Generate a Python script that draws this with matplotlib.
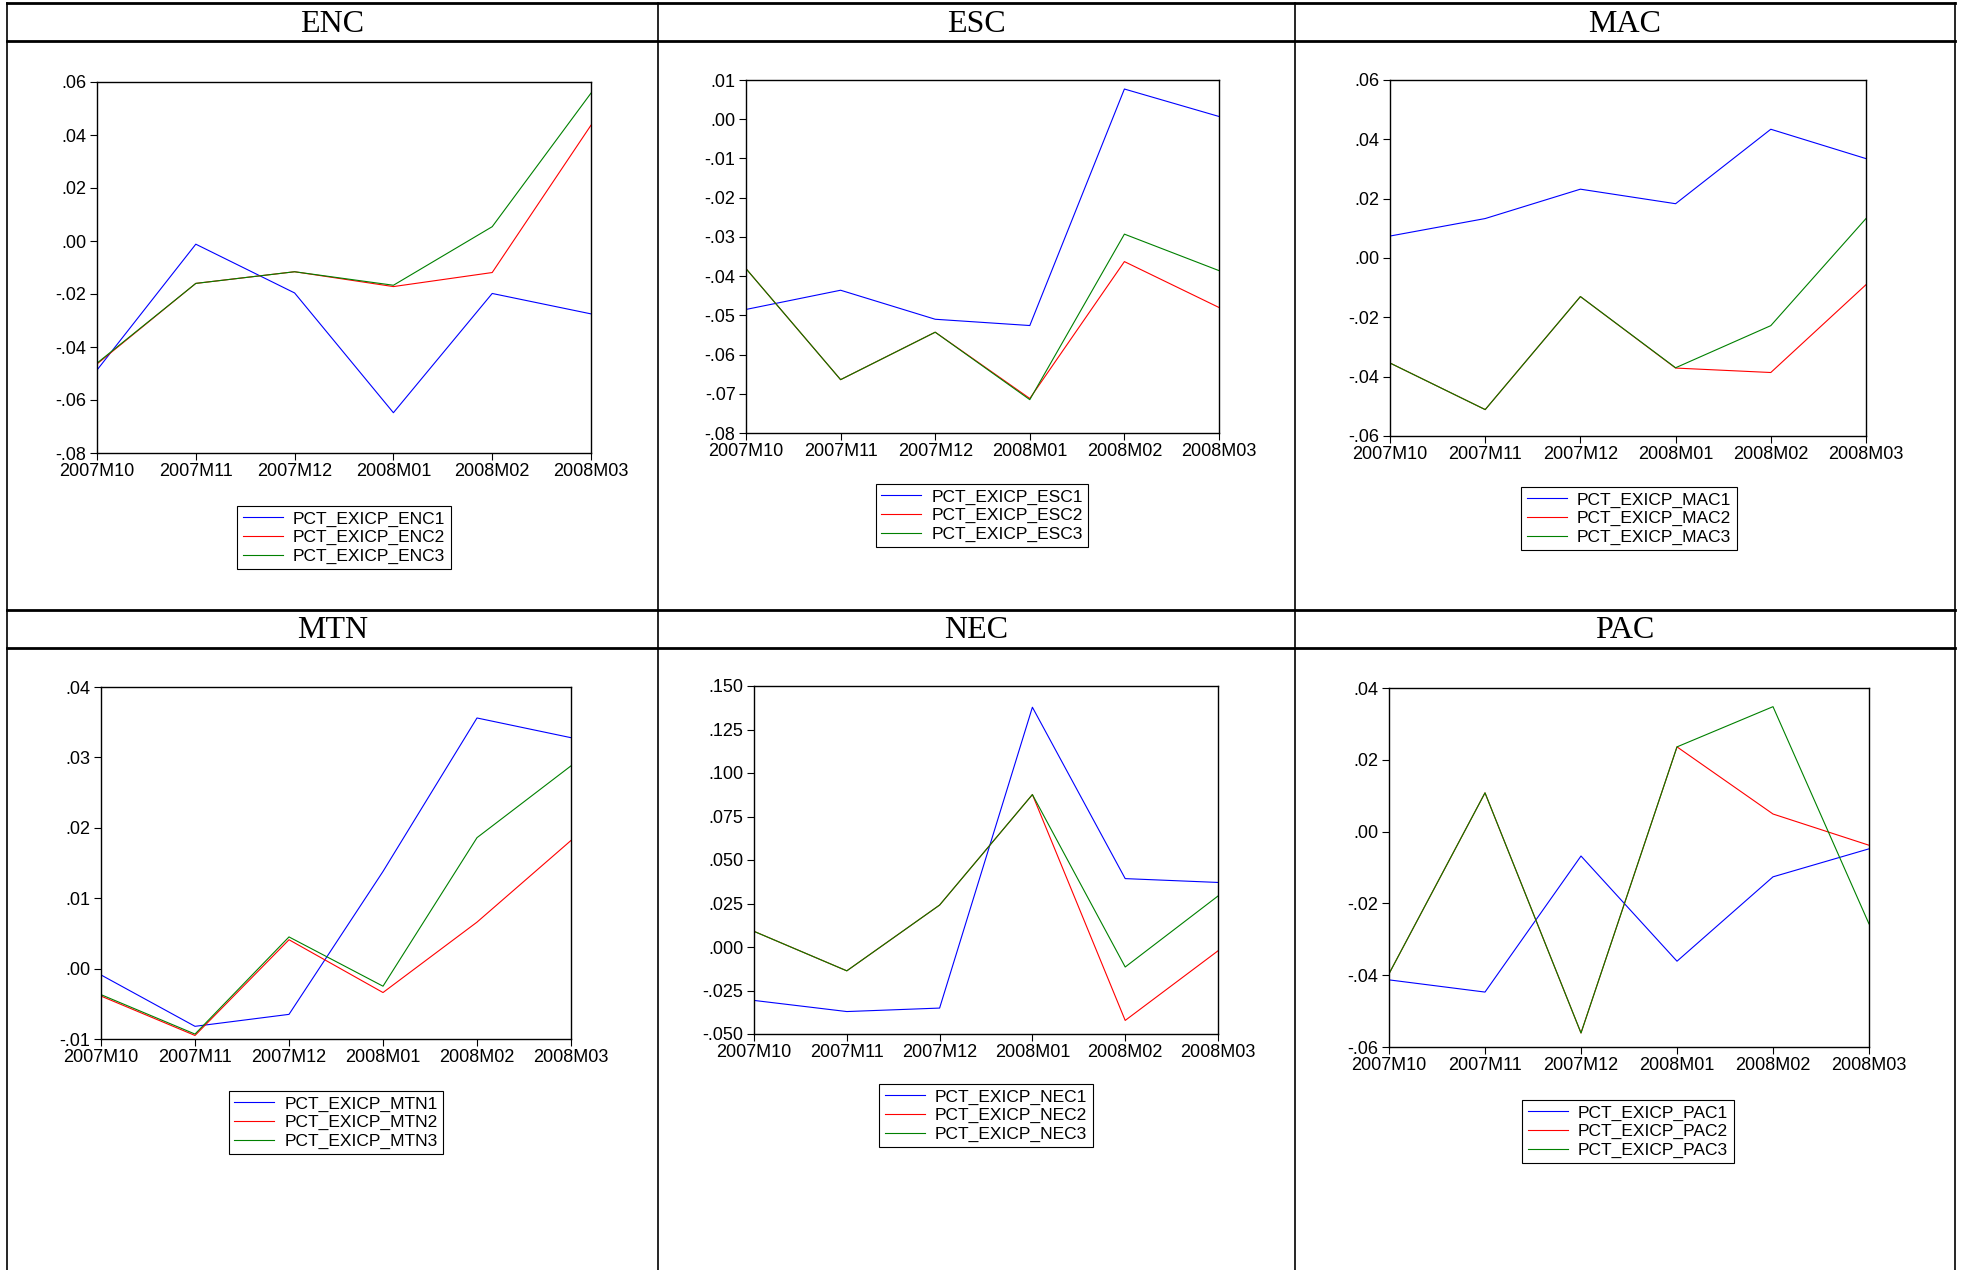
import numpy as np
import matplotlib
matplotlib.use("Agg")
import matplotlib.pyplot as plt
from matplotlib.lines import Line2D
from matplotlib.ticker import FuncFormatter

# data
months = ["2007M10", "2007M11", "2007M12", "2008M01", "2008M02", "2008M03"]

enc1 = [-0.0487, -0.0012, -0.0196, -0.0648, -0.0198, -0.0275]
enc2 = [-0.0464, -0.0160, -0.0116, -0.0172, -0.0119, 0.0437]
enc3 = [-0.0461, -0.0160, -0.0116, -0.0167, 0.0054, 0.0558]

esc1 = [-0.0485, -0.0436, -0.0510, -0.0526, 0.0077, 0.0007]
esc2 = [-0.0381, -0.0664, -0.0543, -0.0712, -0.0363, -0.0480]
esc3 = [-0.0381, -0.0664, -0.0543, -0.0715, -0.0293, -0.0386]

mac1 = [0.0074, 0.0133, 0.0232, 0.0183, 0.0434, 0.0335]
mac2 = [-0.0354, -0.0511, -0.0130, -0.0371, -0.0386, -0.0090]
mac3 = [-0.0354, -0.0511, -0.0130, -0.0370, -0.0228, 0.0133]

mtn1 = [-0.0009, -0.0082, -0.0065, 0.0138, 0.0356, 0.0328]
mtn2 = [-0.0039, -0.0095, 0.0041, -0.0034, 0.0066, 0.0182]
mtn3 = [-0.0037, -0.0093, 0.0045, -0.0025, 0.0186, 0.0288]

nec1 = [-0.0307, -0.0371, -0.0351, 0.1378, 0.0393, 0.0371]
nec2 = [0.0090, -0.0137, 0.0241, 0.0876, -0.0422, -0.0022]
nec3 = [0.0090, -0.0137, 0.0241, 0.0876, -0.0115, 0.0293]

pac1 = [-0.0413, -0.0447, -0.0068, -0.0361, -0.0126, -0.0048]
pac2 = [-0.0396, 0.0108, -0.0561, 0.0236, 0.0049, -0.0038]
pac3 = [-0.0396, 0.0108, -0.0561, 0.0236, 0.0348, -0.0257]

regions = ["ENC", "ESC", "MAC", "MTN", "NEC", "PAC"]
series = {
    "ENC": [enc1, enc2, enc3],
    "ESC": [esc1, esc2, esc3],
    "MAC": [mac1, mac2, mac3],
    "MTN": [mtn1, mtn2, mtn3],
    "NEC": [nec1, nec2, nec3],
    "PAC": [pac1, pac2, pac3],
}
# y range and tick step per panel
yscale = {
    "ENC": (-0.08, 0.06, 0.02, 2),
    "ESC": (-0.08, 0.01, 0.01, 2),
    "MAC": (-0.06, 0.06, 0.02, 2),
    "MTN": (-0.01, 0.04, 0.01, 2),
    "NEC": (-0.05, 0.15, 0.025, 3),
    "PAC": (-0.06, 0.04, 0.02, 2),
}

W, H = 1963, 1270
# axes boxes in pixels: left, top, right, bottom
axbox = {
    "ENC": (97, 82, 591, 453),
    "ESC": (746, 80, 1219, 433),
    "MAC": (1390, 80, 1866, 436),
    "MTN": (101, 687, 571, 1039),
    "NEC": (754, 686, 1218, 1034),
    "PAC": (1389, 688, 1869, 1047),
}
# legend boxes in pixels: centre x, top y
legpos = {
    "ENC": (344, 506),
    "ESC": (982, 484),
    "MAC": (1629, 487),
    "MTN": (336, 1091),
    "NEC": (986, 1084),
    "PAC": (1628, 1100),
}
colors = ["#0000ff", "#ff0000", "#008000"]

plt.rcParams["font.family"] = ["Liberation Sans", "DejaVu Sans"]

fig = plt.figure(figsize=(W / 100, H / 100), dpi=100)


def fmt(decimals):
    def f(v, pos):
        s = f"{v:.{decimals}f}"
        if float(s) == 0:
            s = f"{0:.{decimals}f}"
        return s.replace("-0.", "-.").replace("0.", ".", 1) if s.startswith(("0", "-0")) else s
    return f


for reg in regions:
    l, t, r, b = axbox[reg]
    ax = fig.add_axes([l / W, 1 - b / H, (r - l) / W, (b - t) / H])
    x = np.arange(len(months))
    for i, ys in enumerate(series[reg]):
        ax.plot(x, ys, color=colors[i], lw=0.8, label=f"PCT_EXICP_{reg}{i + 1}")
    lo, hi, step, dec = yscale[reg]
    ax.set_ylim(lo, hi)
    ax.set_yticks(np.arange(lo, hi + step / 2, step))
    ax.yaxis.set_major_formatter(FuncFormatter(fmt(dec)))
    ax.set_xlim(0, len(months) - 1)
    ax.set_xticks(x)
    ax.set_xticklabels(months)
    ax.tick_params(direction="out", length=5, width=0.8, labelsize=13, pad=2.5, colors="black")
    for sp in ax.spines.values():
        sp.set_linewidth(1.0)
    cx, ty = legpos[reg]
    leg = ax.legend(loc="upper center", bbox_to_anchor=(cx / W, 1 - ty / H),
                    bbox_transform=fig.transFigure, fontsize=12.5, frameon=True,
                    fancybox=False, edgecolor="black", framealpha=1,
                    borderpad=0.3, labelspacing=0.2, handlelength=2.3,
                    handletextpad=0.6, borderaxespad=0)
    leg.get_frame().set_linewidth(0.8)

# table grid around the panels
over = fig.add_axes([0, 0, 1, 1], zorder=-1)
over.set_xlim(0, W)
over.set_ylim(H, 0)
over.axis("off")
cols = [7, 658, 1295, 1955]
for yy in [3, 41, 610, 648]:
    over.add_line(Line2D([7, 1955], [yy, yy], color="black", lw=2.0))
for xx in cols:
    over.add_line(Line2D([xx, xx], [3, H], color="black", lw=1.2))
for k, reg in enumerate(regions):
    c = k % 3
    row_y = 24 if k < 3 else 631
    over.text((cols[c] + cols[c + 1]) / 2, row_y, reg, ha="center", va="center",
              fontsize=23, family="Liberation Serif")

fig.savefig("out.png", dpi=100)
